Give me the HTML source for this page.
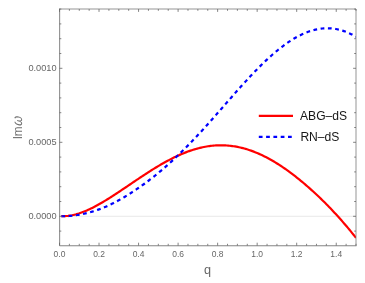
<!DOCTYPE html>
<html><head><meta charset="utf-8"><style>
html,body{margin:0;padding:0;background:#fff;}
svg{display:block;font-family:"Liberation Sans",sans-serif;}
text{filter:grayscale(1);}
</style></head><body>
<svg width="365" height="283" viewBox="0 0 365 283">
<rect width="365" height="283" fill="#fff"/>
<line x1="59.5" y1="216.3" x2="356.0" y2="216.3" stroke="#e2e2e2" stroke-width="0.8"/>
<clipPath id="c"><rect x="59.5" y="9.0" width="296.5" height="236.6"/></clipPath>
<g clip-path="url(#c)" fill="none" stroke-linejoin="round">
<path d="M61.30,216.14 L62.65,216.18 L63.99,216.17 L65.34,216.12 L66.68,216.02 L68.03,215.89 L69.37,215.71 L70.72,215.50 L72.07,215.25 L73.41,214.96 L74.76,214.64 L76.10,214.29 L77.45,213.90 L78.79,213.49 L80.14,213.04 L81.48,212.57 L82.83,212.07 L84.18,211.54 L85.52,210.99 L86.87,210.41 L88.21,209.81 L89.56,209.19 L90.90,208.55 L92.25,207.89 L93.60,207.21 L94.94,206.51 L96.29,205.80 L97.63,205.06 L98.98,204.32 L100.32,203.55 L101.67,202.78 L103.02,201.99 L104.36,201.18 L105.71,200.37 L107.05,199.55 L108.40,198.71 L109.74,197.86 L111.09,197.01 L112.44,196.15 L113.78,195.28 L115.13,194.40 L116.47,193.52 L117.82,192.63 L119.16,191.74 L120.51,190.84 L121.85,189.94 L123.20,189.04 L124.55,188.13 L125.89,187.22 L127.24,186.31 L128.58,185.40 L129.93,184.49 L131.27,183.58 L132.62,182.67 L133.97,181.76 L135.31,180.85 L136.66,179.95 L138.00,179.04 L139.35,178.14 L140.69,177.25 L142.04,176.36 L143.39,175.47 L144.73,174.59 L146.08,173.71 L147.42,172.84 L148.77,171.98 L150.11,171.12 L151.46,170.27 L152.81,169.43 L154.15,168.60 L155.50,167.77 L156.84,166.96 L158.19,166.15 L159.53,165.36 L160.88,164.57 L162.22,163.80 L163.57,163.03 L164.92,162.28 L166.26,161.54 L167.61,160.81 L168.95,160.10 L170.30,159.39 L171.64,158.70 L172.99,158.03 L174.34,157.36 L175.68,156.72 L177.03,156.09 L178.37,155.47 L179.72,154.87 L181.06,154.28 L182.41,153.71 L183.76,153.15 L185.10,152.62 L186.45,152.10 L187.79,151.59 L189.14,151.11 L190.48,150.64 L191.83,150.19 L193.17,149.76 L194.52,149.34 L195.87,148.95 L197.21,148.57 L198.56,148.22 L199.90,147.88 L201.25,147.56 L202.59,147.27 L203.94,146.99 L205.29,146.73 L206.63,146.50 L207.98,146.28 L209.32,146.09 L210.67,145.91 L212.01,145.76 L213.36,145.63 L214.71,145.52 L216.05,145.43 L217.40,145.36 L218.74,145.32 L220.09,145.29 L221.43,145.29 L222.78,145.31 L224.13,145.35 L225.47,145.41 L226.82,145.49 L228.16,145.59 L229.51,145.72 L230.85,145.87 L232.20,146.04 L233.54,146.23 L234.89,146.44 L236.24,146.68 L237.58,146.93 L238.93,147.21 L240.27,147.51 L241.62,147.82 L242.96,148.17 L244.31,148.53 L245.66,148.91 L247.00,149.32 L248.35,149.74 L249.69,150.19 L251.04,150.65 L252.38,151.14 L253.73,151.64 L255.08,152.17 L256.42,152.71 L257.77,153.28 L259.11,153.87 L260.46,154.47 L261.80,155.10 L263.15,155.74 L264.49,156.41 L265.84,157.09 L267.19,157.79 L268.53,158.51 L269.88,159.25 L271.22,160.01 L272.57,160.78 L273.91,161.57 L275.26,162.38 L276.61,163.21 L277.95,164.05 L279.30,164.92 L280.64,165.79 L281.99,166.69 L283.33,167.60 L284.68,168.52 L286.03,169.46 L287.37,170.42 L288.72,171.39 L290.06,172.38 L291.41,173.38 L292.75,174.40 L294.10,175.43 L295.45,176.47 L296.79,177.53 L298.14,178.60 L299.48,179.69 L300.83,180.79 L302.17,181.90 L303.52,183.03 L304.86,184.17 L306.21,185.32 L307.56,186.48 L308.90,187.66 L310.25,188.85 L311.59,190.06 L312.94,191.28 L314.28,192.51 L315.63,193.75 L316.98,195.01 L318.32,196.28 L319.67,197.56 L321.01,198.86 L322.36,200.17 L323.70,201.50 L325.05,202.84 L326.40,204.19 L327.74,205.56 L329.09,206.95 L330.43,208.35 L331.78,209.76 L333.12,211.19 L334.47,212.63 L335.82,214.09 L337.16,215.57 L338.51,217.06 L339.85,218.56 L341.20,220.08 L342.54,221.61 L343.89,223.16 L345.23,224.73 L346.58,226.31 L347.93,227.91 L349.27,229.53 L350.62,231.16 L351.96,232.82 L353.31,234.49 L354.65,236.19 L356.00,237.91" stroke="#ff0000" stroke-width="2.2"/>
<path d="M61.30,216.25 L62.65,216.26 L63.99,216.24 L65.34,216.20 L66.68,216.15 L68.03,216.07 L69.37,215.98 L70.72,215.86 L72.07,215.73 L73.41,215.58 L74.76,215.41 L76.10,215.23 L77.45,215.03 L78.79,214.80 L80.14,214.56 L81.48,214.31 L82.83,214.03 L84.18,213.74 L85.52,213.44 L86.87,213.11 L88.21,212.77 L89.56,212.41 L90.90,212.04 L92.25,211.64 L93.60,211.23 L94.94,210.80 L96.29,210.36 L97.63,209.89 L98.98,209.41 L100.32,208.91 L101.67,208.39 L103.02,207.86 L104.36,207.30 L105.71,206.73 L107.05,206.14 L108.40,205.52 L109.74,204.90 L111.09,204.25 L112.44,203.59 L113.78,202.91 L115.13,202.21 L116.47,201.50 L117.82,200.78 L119.16,200.04 L120.51,199.28 L121.85,198.51 L123.20,197.73 L124.55,196.93 L125.89,196.12 L127.24,195.29 L128.58,194.45 L129.93,193.61 L131.27,192.74 L132.62,191.87 L133.97,190.99 L135.31,190.09 L136.66,189.19 L138.00,188.27 L139.35,187.34 L140.69,186.40 L142.04,185.44 L143.39,184.48 L144.73,183.50 L146.08,182.51 L147.42,181.51 L148.77,180.50 L150.11,179.47 L151.46,178.43 L152.81,177.38 L154.15,176.31 L155.50,175.24 L156.84,174.15 L158.19,173.05 L159.53,171.93 L160.88,170.80 L162.22,169.66 L163.57,168.51 L164.92,167.34 L166.26,166.16 L167.61,164.97 L168.95,163.77 L170.30,162.55 L171.64,161.32 L172.99,160.08 L174.34,158.83 L175.68,157.56 L177.03,156.28 L178.37,154.99 L179.72,153.69 L181.06,152.38 L182.41,151.05 L183.76,149.72 L185.10,148.37 L186.45,147.01 L187.79,145.64 L189.14,144.26 L190.48,142.87 L191.83,141.47 L193.17,140.06 L194.52,138.64 L195.87,137.21 L197.21,135.77 L198.56,134.32 L199.90,132.87 L201.25,131.40 L202.59,129.93 L203.94,128.45 L205.29,126.96 L206.63,125.47 L207.98,123.96 L209.32,122.46 L210.67,120.95 L212.01,119.43 L213.36,117.91 L214.71,116.38 L216.05,114.85 L217.40,113.32 L218.74,111.79 L220.09,110.25 L221.43,108.71 L222.78,107.17 L224.13,105.63 L225.47,104.10 L226.82,102.56 L228.16,101.02 L229.51,99.48 L230.85,97.95 L232.20,96.42 L233.54,94.89 L234.89,93.37 L236.24,91.85 L237.58,90.33 L238.93,88.82 L240.27,87.32 L241.62,85.82 L242.96,84.34 L244.31,82.85 L245.66,81.38 L247.00,79.92 L248.35,78.46 L249.69,77.02 L251.04,75.58 L252.38,74.16 L253.73,72.75 L255.08,71.35 L256.42,69.96 L257.77,68.59 L259.11,67.23 L260.46,65.89 L261.80,64.56 L263.15,63.25 L264.49,61.95 L265.84,60.67 L267.19,59.40 L268.53,58.16 L269.88,56.93 L271.22,55.72 L272.57,54.53 L273.91,53.36 L275.26,52.22 L276.61,51.09 L277.95,49.98 L279.30,48.90 L280.64,47.83 L281.99,46.79 L283.33,45.78 L284.68,44.79 L286.03,43.82 L287.37,42.88 L288.72,41.96 L290.06,41.07 L291.41,40.21 L292.75,39.37 L294.10,38.56 L295.45,37.77 L296.79,37.02 L298.14,36.29 L299.48,35.60 L300.83,34.93 L302.17,34.29 L303.52,33.68 L304.86,33.10 L306.21,32.56 L307.56,32.04 L308.90,31.55 L310.25,31.10 L311.59,30.68 L312.94,30.30 L314.28,29.94 L315.63,29.62 L316.98,29.34 L318.32,29.08 L319.67,28.86 L321.01,28.68 L322.36,28.53 L323.70,28.41 L325.05,28.33 L326.40,28.29 L327.74,28.28 L329.09,28.31 L330.43,28.38 L331.78,28.48 L333.12,28.62 L334.47,28.80 L335.82,29.01 L337.16,29.26 L338.51,29.55 L339.85,29.88 L341.20,30.25 L342.54,30.65 L343.89,31.10 L345.23,31.58 L346.58,32.10 L347.93,32.66 L349.27,33.26 L350.62,33.90 L351.96,34.58 L353.31,35.30 L354.65,36.06 L356.00,36.87" stroke="#0000ff" stroke-width="2.2" stroke-dasharray="3.75 3.55"/>
</g>
<path d="M59.65,8.5 V245.75 H356.5" fill="none" stroke="#767676" stroke-width="0.9"/><path d="M59.5,9.0 H356.0 V245.6" fill="none" stroke="#767676" stroke-width="0.78"/>
<path d="M59.50,245.6 v-2.9 M59.50,9.0 v2.9 M69.38,245.6 v-1.8 M69.38,9.0 v1.8 M79.27,245.6 v-1.8 M79.27,9.0 v1.8 M89.15,245.6 v-1.8 M89.15,9.0 v1.8 M99.03,245.6 v-2.9 M99.03,9.0 v2.9 M108.92,245.6 v-1.8 M108.92,9.0 v1.8 M118.80,245.6 v-1.8 M118.80,9.0 v1.8 M128.68,245.6 v-1.8 M128.68,9.0 v1.8 M138.57,245.6 v-2.9 M138.57,9.0 v2.9 M148.45,245.6 v-1.8 M148.45,9.0 v1.8 M158.33,245.6 v-1.8 M158.33,9.0 v1.8 M168.22,245.6 v-1.8 M168.22,9.0 v1.8 M178.10,245.6 v-2.9 M178.10,9.0 v2.9 M187.99,245.6 v-1.8 M187.99,9.0 v1.8 M197.87,245.6 v-1.8 M197.87,9.0 v1.8 M207.75,245.6 v-1.8 M207.75,9.0 v1.8 M217.64,245.6 v-2.9 M217.64,9.0 v2.9 M227.52,245.6 v-1.8 M227.52,9.0 v1.8 M237.40,245.6 v-1.8 M237.40,9.0 v1.8 M247.29,245.6 v-1.8 M247.29,9.0 v1.8 M257.17,245.6 v-2.9 M257.17,9.0 v2.9 M267.05,245.6 v-1.8 M267.05,9.0 v1.8 M276.94,245.6 v-1.8 M276.94,9.0 v1.8 M286.82,245.6 v-1.8 M286.82,9.0 v1.8 M296.70,245.6 v-2.9 M296.70,9.0 v2.9 M306.59,245.6 v-1.8 M306.59,9.0 v1.8 M316.47,245.6 v-1.8 M316.47,9.0 v1.8 M326.35,245.6 v-1.8 M326.35,9.0 v1.8 M336.24,245.6 v-2.9 M336.24,9.0 v2.9 M346.12,245.6 v-1.8 M346.12,9.0 v1.8 M356.00,245.6 v-1.8 M356.00,9.0 v1.8 M59.5,231.10 h1.8 M356.0,231.10 h-1.8 M59.5,216.30 h2.9 M356.0,216.30 h-2.9 M59.5,201.50 h1.8 M356.0,201.50 h-1.8 M59.5,186.70 h1.8 M356.0,186.70 h-1.8 M59.5,171.90 h1.8 M356.0,171.90 h-1.8 M59.5,157.10 h1.8 M356.0,157.10 h-1.8 M59.5,142.30 h2.9 M356.0,142.30 h-2.9 M59.5,127.50 h1.8 M356.0,127.50 h-1.8 M59.5,112.70 h1.8 M356.0,112.70 h-1.8 M59.5,97.90 h1.8 M356.0,97.90 h-1.8 M59.5,83.10 h1.8 M356.0,83.10 h-1.8 M59.5,68.30 h2.9 M356.0,68.30 h-2.9 M59.5,53.50 h1.8 M356.0,53.50 h-1.8 M59.5,38.70 h1.8 M356.0,38.70 h-1.8 M59.5,23.90 h1.8 M356.0,23.90 h-1.8 M59.5,9.10 h1.8 M356.0,9.10 h-1.8" stroke="#666666" stroke-width="0.8" fill="none"/>
<g font-size="9.4" fill="#666666"><text x="53.60" y="257" textLength="11.8" lengthAdjust="spacingAndGlyphs">0.0</text><text x="93.13" y="257" textLength="11.8" lengthAdjust="spacingAndGlyphs">0.2</text><text x="132.67" y="257" textLength="11.8" lengthAdjust="spacingAndGlyphs">0.4</text><text x="172.20" y="257" textLength="11.8" lengthAdjust="spacingAndGlyphs">0.6</text><text x="211.74" y="257" textLength="11.8" lengthAdjust="spacingAndGlyphs">0.8</text><text x="251.27" y="257" textLength="11.8" lengthAdjust="spacingAndGlyphs">1.0</text><text x="290.80" y="257" textLength="11.8" lengthAdjust="spacingAndGlyphs">1.2</text><text x="330.34" y="257" textLength="11.8" lengthAdjust="spacingAndGlyphs">1.4</text><text x="28.4" y="219.40" textLength="28.2" lengthAdjust="spacingAndGlyphs">0.0000</text><text x="28.4" y="145.40" textLength="28.2" lengthAdjust="spacingAndGlyphs">0.0005</text><text x="28.4" y="71.40" textLength="28.2" lengthAdjust="spacingAndGlyphs">0.0010</text></g>
<text transform="translate(207.6,274.3) scale(1.06,1)" font-size="12" fill="#666666" text-anchor="middle">q</text>
<g transform="translate(22.1,127.6) rotate(-90) scale(1,1.12)" fill="#707070"><text x="-11.75" y="0" font-size="11.8">I</text><text x="-8.7" y="0" font-size="11.8">m</text><text transform="translate(1.2,0) skewX(-14)" font-size="12.6">ω</text></g>
<line x1="258.8" y1="115.8" x2="293" y2="115.8" stroke="#ff0000" stroke-width="2.2"/>
<line x1="258.8" y1="136.9" x2="293" y2="136.9" stroke="#0000ff" stroke-width="2.2" stroke-dasharray="3.75 3.55"/>
<g font-size="12.1" fill="#161616"><text x="300" y="120.45">ABG–dS</text><text x="300.4" y="141.45">RN–dS</text></g>
</svg>
</body></html>
